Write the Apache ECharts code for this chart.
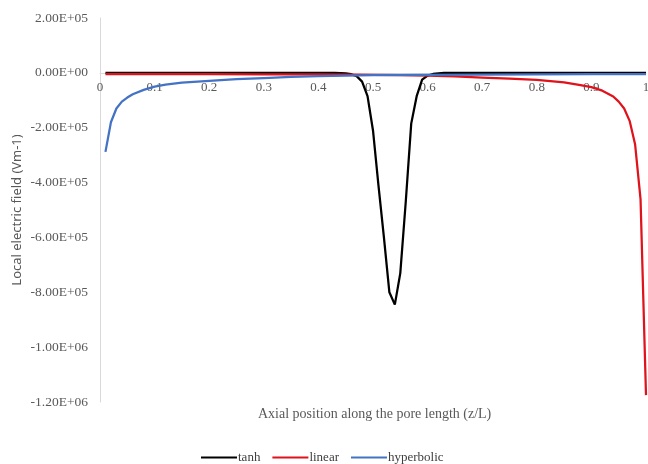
<!DOCTYPE html>
<html>
<head>
<meta charset="utf-8">
<script src="https://cdn.jsdelivr.net/npm/echarts@6/dist/echarts.min.js"></script>
<style>
  html, body { margin: 0; padding: 0; background: #ffffff; }
  #chart { width: 648px; height: 464px; }
</style>
</head>
<body>
<div id="chart"></div>
<script>
// Axial positions (z/L) and local electric field (V/m) for each profile
const tanhZ = [0.01, 0.1, 0.2, 0.3, 0.4, 0.43, 0.44, 0.45, 0.46, 0.47, 0.48, 0.49, 0.50, 0.51, 0.52, 0.53, 0.54, 0.55, 0.56, 0.57, 0.58, 0.59, 0.60, 0.61, 0.62, 0.63, 0.7, 0.8, 0.9, 1.0];
const tanhE = [0, 0, 0, 0, 0, -200, -800, -2000, -5000, -12000, -32000, -85000, -210000, -410000, -600000, -800000, -845000, -730000, -470000, -185000, -85000, -25000, -10000, -4000, -1500, -500, 0, 0, 0, 0];

const linearZ = [0.01, 0.1, 0.2, 0.3, 0.4, 0.5, 0.55, 0.6, 0.65, 0.7, 0.75, 0.8, 0.85, 0.88, 0.9, 0.92, 0.94, 0.95, 0.96, 0.97, 0.98, 0.99, 1.0];
const linearE = [-4500, -4600, -4800, -5200, -5800, -7000, -8500, -10000, -13000, -17000, -21000, -26000, -35000, -45000, -52000, -65000, -86000, -105000, -130000, -175000, -260000, -460000, -1175000];

const hyperZ = [0.01, 0.02, 0.03, 0.04, 0.05, 0.06, 0.08, 0.10, 0.12, 0.15, 0.2, 0.25, 0.3, 0.35, 0.4, 0.45, 0.5, 0.6, 0.7, 0.8, 0.9, 1.0];
const hyperE = [-288000, -180000, -130000, -105000, -90000, -78000, -62000, -50000, -43000, -36000, -29000, -23000, -19000, -15000, -12000, -10000, -8000, -7000, -6000, -5500, -5000, -4500];

const seriesNames = ['tanh', 'linear', 'hyperbolic'];
const seriesColors = ['#000000', '#e0121b', '#4472c4'];

const yTickMin = -1.2e6, yTickMax = 2e5, yTickStep = 2e5;

function pairs(xs, ys) { return xs.map((x, i) => [x, ys[i]]); }

function sci(v) {
  if (Math.abs(v) < 1e-9) return '0.00E+00';
  const s = v.toExponential(2);
  const parts = s.split('e');
  let exp = parseInt(parts[1], 10);
  const sign = exp < 0 ? '-' : '+';
  exp = Math.abs(exp);
  return parts[0] + 'E' + sign + (exp < 10 ? '0' + exp : '' + exp);
}

const chart = echarts.init(document.getElementById('chart'));
const serif = '"Liberation Serif", "DejaVu Serif", serif';
const grey = '#595959';
const gridBox = { left: 100, right: 2, top: 18, bottom: 62, containLabel: false, outerBoundsMode: 'none' };

chart.setOption({
  animation: false,
  backgroundColor: '#ffffff',
  grid: gridBox,
  xAxis: {
    type: 'value', min: 0, max: 1, interval: 0.1, position: 'bottom',
    axisLine: { show: true, onZero: false, lineStyle: { color: '#d9d9d9', width: 1 } },
    axisTick: { show: false },
    splitLine: { show: false },
    axisLabel: { color: grey, fontFamily: serif, fontSize: 13, margin: 8 }
  },
  yAxis: {
    type: 'value', min: yTickMin, max: yTickMax, interval: yTickStep,
    axisLine: { show: true, onZero: false, lineStyle: { color: '#d9d9d9', width: 1 } },
    axisTick: { show: false },
    splitLine: { show: false },
    axisLabel: { color: grey, fontFamily: serif, fontSize: 13.5, margin: 12, formatter: sci },
    name: 'Local electric field (Vm-1)',
    nameLocation: 'middle', nameGap: 76, nameRotate: 90, nameMoveOverlap: false,
    nameTextStyle: { color: grey, fontFamily: '"Noto Sans", "DejaVu Sans", sans-serif', fontSize: 13 }
  },
  legend: {
    left: 196, top: 446,
    itemWidth: 36, itemHeight: 2, itemGap: 12,
    icon: 'rect',
    textStyle: { color: '#404040', fontFamily: serif, fontSize: 13, padding: [0, 0, 0, -4] },
    data: seriesNames
  },
  graphic: [{
    type: 'text', left: 258, top: 407,
    style: { text: 'Axial position along the pore length (z/L)', fill: grey, font: '14px ' + serif }
  }],
  series: [
    { name: seriesNames[0], type: 'line', data: pairs(tanhZ, tanhE), showSymbol: false, symbol: 'none',
      lineStyle: { color: seriesColors[0], width: 2.25 }, itemStyle: { color: seriesColors[0] } },
    { name: seriesNames[1], type: 'line', data: pairs(linearZ, linearE), showSymbol: false, symbol: 'none',
      lineStyle: { color: seriesColors[1], width: 2.25 }, itemStyle: { color: seriesColors[1] } },
    { name: seriesNames[2], type: 'line', data: pairs(hyperZ, hyperE), showSymbol: false, symbol: 'none',
      lineStyle: { color: seriesColors[2], width: 2.25 }, itemStyle: { color: seriesColors[2] } }
  ]
});

// Move the horizontal axis up so it crosses the vertical axis at zero
const zeroPx = chart.convertToPixel({ yAxisIndex: 0 }, 0);
const bottomPx = chart.convertToPixel({ yAxisIndex: 0 }, yTickMin);
chart.setOption({ xAxis: { offset: -(bottomPx - zeroPx) } });
</script>
</body>
</html>
